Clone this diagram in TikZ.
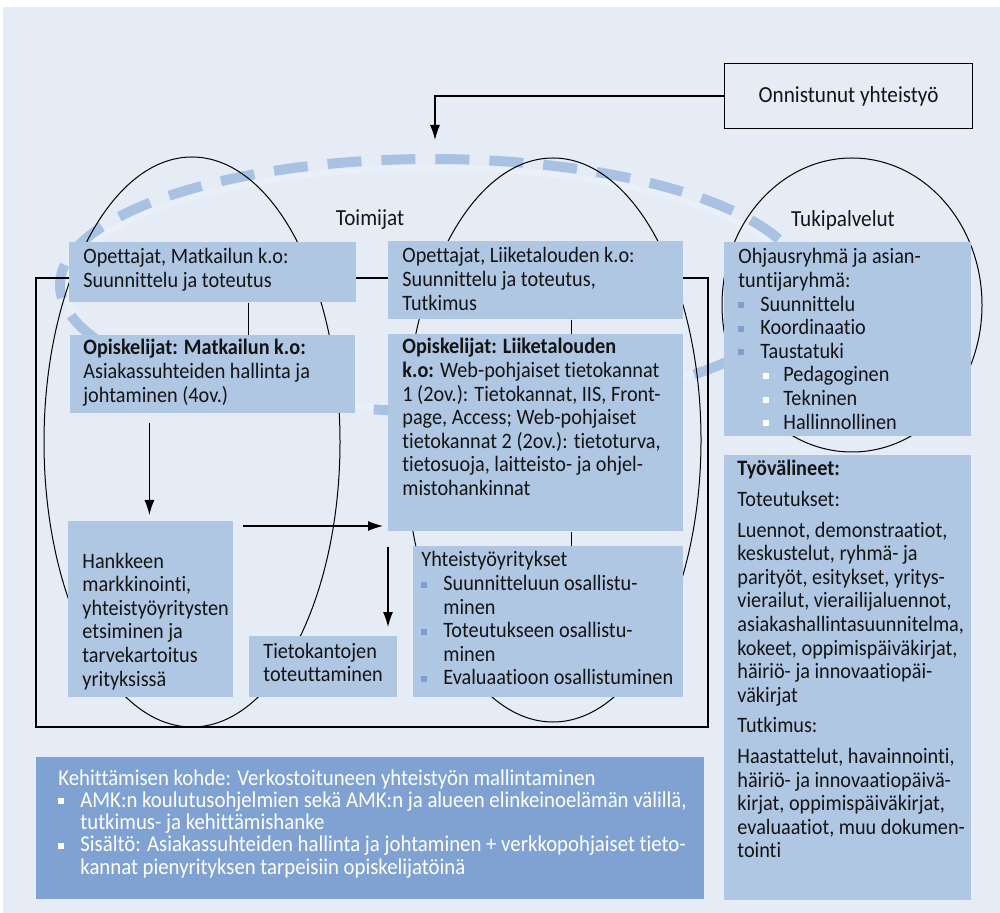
\documentclass[tikz,border=0pt]{standalone}
\usepackage{fontspec}
\setmainfont{Carlito}[FakeStretch=0.92, Ligatures=NoCommon]
\usetikzlibrary{calc,arrows.meta}
\definecolor{bgblue}{HTML}{E5ECF6}
\definecolor{boxblue}{HTML}{B0C7E4}
\definecolor{deepblue}{HTML}{7FA2D3}
\definecolor{bulletblue}{HTML}{7D9FD0}
\definecolor{dashblue}{HTML}{A9C2E3}
\definecolor{bandlight}{HTML}{EAF0F8}
\definecolor{ink}{HTML}{141414}
% square bullets: level one and level two
\newcommand\sqb[1]{\makebox[11pt][l]{\raisebox{1.5pt}{\textcolor{#1}{\rule{3pt}{3pt}}}}}
\newcommand\ind{\hspace*{11pt}}
\newcommand\subb{\hspace*{12.5pt}\makebox[10pt][l]{\raisebox{1.5pt}{\textcolor{white}{\rule{3pt}{3pt}}}}}
% filled panel: name, x, y, width, height (px)
\newcommand\panel[6][boxblue]{\node[panelbox, fill=#1, minimum width={#5*0.5pt}, minimum height={#6*0.5pt}] (#2) at (#3,#4) {};}
\begin{document}
\begin{tikzpicture}[x=0.5pt,y=-0.5pt,
  panelbox/.style={draw=none, inner sep=0pt, anchor=north west},
  txt/.style={anchor=base west, inner sep=0pt, text=ink, font=\fontsize{11}{11.8}\selectfont},
  heading/.style={inner sep=0pt, text=ink, font=\fontsize{11.5}{13}\selectfont},
  arr/.style={-{Latex[length=7.5pt,width=5pt]}, line width=0.6pt},
  thin/.style={line width=0.5pt},
  dashloop/.style={line width=5pt, draw=dashblue, dash pattern=on 17pt off 10pt}]
\useasboundingbox (0,0) rectangle (1000,913);
\fill[bgblue] (3,7) rectangle (1000,913);

% cooperation loop
\draw[line width=3pt, bandlight] (432,288) ellipse [x radius=183pt, y radius=60pt];
\draw[dashloop] (432,285) ellipse [x radius=186pt, y radius=63pt];

% actor ellipses
\draw[thin] (192,442) ellipse [x radius=74pt, y radius=142.5pt];
\draw[thin] (553,440) ellipse [x radius=74pt, y radius=141pt];
\draw[thin] (852,305) ellipse [x radius=65pt, y radius=73.5pt];

% frame round the actors
\draw[line width=0.6pt] (36,278) rectangle (708,727);

% headings
\node[heading] (toimijat) at (370,220) {Toimijat};
\node[heading] (tuki) at (843,220) {Tukipalvelut};
\node[draw, line width=0.6pt, fill=bgblue, anchor=north west, inner sep=0pt,
      minimum width=124pt, minimum height=32.5pt, text=ink,
      font=\fontsize{11.5}{13}\selectfont] (On) at (724,63) {Onnistunut yhteistyö};

% panels
\panel{A}{69}{242}{287}{60}
\panel{B}{70}{335}{285}{78}
\panel{C}{68}{521}{165}{176}
\panel{E}{249}{636}{148}{61}
\panel{F}{388}{241}{295}{78}
\panel{D}{388}{334}{295}{197}
\panel{G}{413}{546}{270}{151}
\panel{H}{724}{242}{247}{194}
\panel{I}{724}{455}{247}{445}
\panel[deepblue]{J}{36}{757}{668}{142}

% panel texts
\node[txt] (tA) at (83,264) {\begin{tabular}[t]{@{}l@{}}Opettajat, Matkailun k.o:\\Suunnittelu ja toteutus\end{tabular}};
\node[txt] (tB) at (83,355) {\begin{tabular}[t]{@{}l@{}}\textbf{Opiskelijat: Matkailun k.o:}\\Asiakassuhteiden hallinta ja\\johtaminen (4ov.)\end{tabular}};
\node[txt] (tC) at (82,568) {\begin{tabular}[t]{@{}l@{}}Hankkeen\\markkinointi,\\yhteistyöyritysten\\etsiminen ja\\tarvekartoitus\\yrityksissä\end{tabular}};
\node[txt] (tE) at (263,658) {\begin{tabular}[t]{@{}l@{}}Tietokantojen\\toteuttaminen\end{tabular}};
\node[txt] (tF) at (402,263) {\begin{tabular}[t]{@{}l@{}}Opettajat, Liiketalouden k.o:\\Suunnittelu ja toteutus,\\Tutkimus\end{tabular}};
\node[txt] (tD) at (402,354) {\begin{tabular}[t]{@{}l@{}}\textbf{Opiskelijat: Liiketalouden}\\\textbf{k.o:} Web-pohjaiset tietokannat\\1 (2ov.): Tietokannat, IIS, Front-\\page, Access; Web-pohjaiset\\tietokannat 2 (2ov.): tietoturva,\\tietosuoja, laitteisto- ja ohjel-\\mistohankinnat\end{tabular}};
\node[txt] (tG) at (421,567) {\begin{tabular}[t]{@{}l@{}}Yhteistyöyritykset\\\sqb{bulletblue}Suunnitteluun osallistu-\\\ind minen\\\sqb{bulletblue}Toteutukseen osallistu-\\\ind minen\\\sqb{bulletblue}Evaluaatioon osallistuminen\end{tabular}};
\node[txt] (tH) at (738,264) {\begin{tabular}[t]{@{}l@{}}Ohjausryhmä ja asian-\\tuntijaryhmä:\\\sqb{bulletblue}Suunnittelu\\\sqb{bulletblue}Koordinaatio\\\sqb{bulletblue}Taustatuki\\\subb Pedagoginen\\\subb Tekninen\\\subb Hallinnollinen\end{tabular}};
\node[txt] (tI) at (737,476) {\begin{tabular}[t]{@{}l@{}}\textbf{Työvälineet:}\\[3.5pt]Toteutukset:\\[3.5pt]Luennot, demonstraatiot,\\keskustelut, ryhmä- ja\\parityöt, esitykset, yritys-\\vierailut, vierailijaluennot,\\asiakashallintasuunnitelma,\\kokeet, oppimispäiväkirjat,\\häiriö- ja innovaatiopäi-\\väkirjat\\[3.5pt]Tutkimus:\\[3.5pt]Haastattelut, havainnointi,\\häiriö- ja innovaatiopäivä-\\kirjat, oppimispäiväkirjat,\\evaluaatiot, muu dokumen-\\tointi\end{tabular}};
\node[txt, text=white, font=\fontsize{11.3}{11}\selectfont] (tJ) at (58,785) {\begin{tabular}[t]{@{}l@{}}Kehittämisen kohde: Verkostoituneen yhteistyön mallintaminen\\\sqb{white}AMK:n koulutusohjelmien sekä AMK:n ja alueen elinkeinoelämän välillä,\\\ind tutkimus- ja kehittämishanke\\\sqb{white}Sisältö: Asiakassuhteiden hallinta ja johtaminen + verkkopohjaiset tieto-\\\ind kannat pienyrityksen tarpeisiin opiskelijatöinä\end{tabular}};

% connectors
\coordinate (ab) at ($(A.south)+(35.5,0)$);
\draw[thin] (ab) -- (ab |- B.north);
\coordinate (bc) at ($(B.south)+(-63.5,0)$);
\draw[arr] ($(bc)+(0,9)$) -- ($(bc |- C.north)+(0,-6)$);
\coordinate (cd) at ($(C.north east)+(0,5)$);
\draw[arr] ($(cd)+(9,0)$) -- ($(cd -| D.west)+(-5,0)$);
\coordinate (de) at (D.south west);
\draw[arr] ($(de)+(0,15)$) -- ($(de |- E.north)+(0,-9)$);
\coordinate (fd) at ($(F.south)+(35.5,0)$);
\draw[thin] (fd) -- (fd |- D.north);
\draw[thin] (fd |- D.south) -- (fd |- G.north);
\coordinate (tip) at (435,140);
\draw[arr] (On.west) -| (tip);
\end{tikzpicture}
\end{document}
